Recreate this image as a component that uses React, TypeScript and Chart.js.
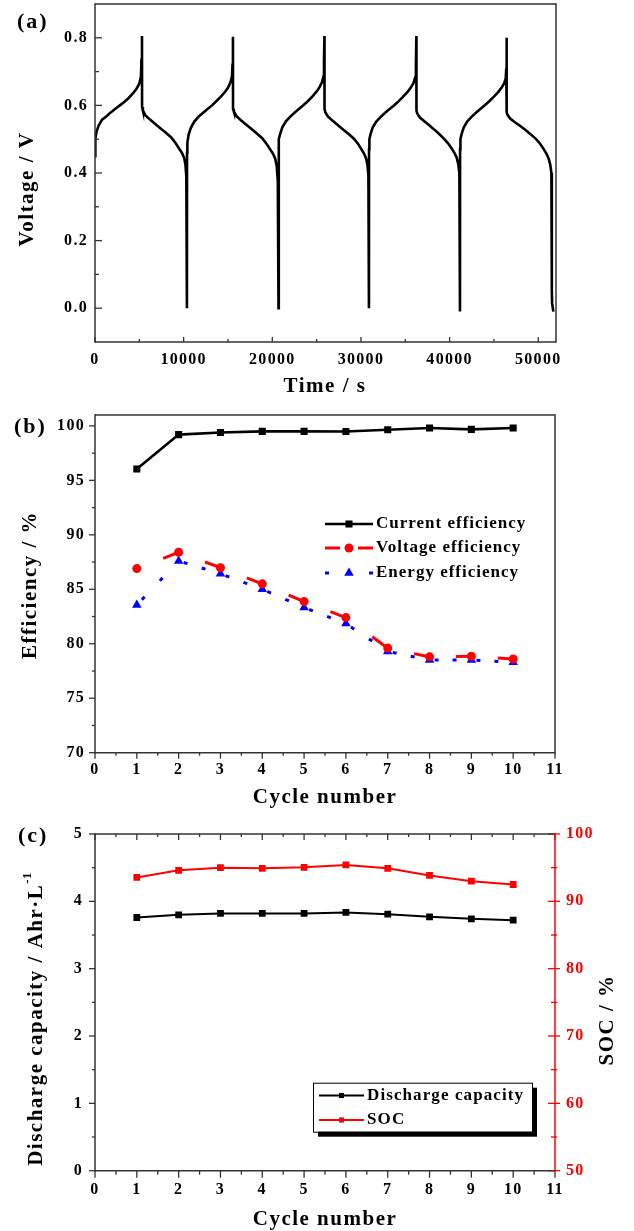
import React, { useEffect, useRef } from 'react';
import { Chart, registerables } from 'chart.js';

Chart.register(...registerables);

// ---------------- (a) voltage profile ----------------
const TIME_S: number[] = [
  0, 40, 150, 400, 800, 1300, 1800, 2300, 2800, 3300, 3800, 4300, 4700, 5000, 5180, 5240, 5300, 5310,
  5400, 5700, 6200, 6800, 7400, 8000, 8600, 9100, 9500, 9800, 10050, 10200, 10300, 10370,
  10380, 10420, 10550, 10800, 11200, 11700, 12200, 12700, 13200, 13700, 14200, 14700, 15000, 15280, 15450, 15510, 15560, 15570,
  15660, 15960, 16460, 17060, 17660, 18260, 18860, 19360, 19760, 20080, 20330, 20500, 20620, 20700,
  20710, 20750, 20880, 21130, 21530, 22030, 22530, 23030, 23530, 24030, 24530, 25030, 25330, 25600, 25770, 25830, 25880, 25890,
  25980, 26280, 26780, 27380, 27980, 28580, 29180, 29680, 30060, 30360, 30590, 30740, 30840, 30900,
  30910, 30950, 31080, 31330, 31730, 32230, 32730, 33230, 33730, 34230, 34730, 35230, 35600, 35920, 36120, 36200, 36250, 36260,
  36350, 36650, 37150, 37700, 38250, 38800, 39350, 39850, 40250, 40550, 40800, 40980, 41100, 41170,
  41180, 41220, 41350, 41600, 42000, 42500, 43000, 43500, 44000, 44500, 45000, 45500, 45850, 46150, 46330, 46390, 46430, 46440,
  46530, 46830, 47330, 47930, 48530, 49130, 49730, 50230, 50630, 50930, 51180, 51350, 51480, 51530, 51560, 51700,
];
const VOLTAGE_V: number[] = [
  0.45, 0.50, 0.52, 0.54, 0.558, 0.568, 0.580, 0.590, 0.600, 0.610, 0.622, 0.636, 0.650, 0.665, 0.685, 0.735, 0.805, 0.595,
  0.585, 0.570, 0.558, 0.545, 0.532, 0.519, 0.505, 0.488, 0.472, 0.460, 0.445, 0.425, 0.390, 0.0,
  0.46, 0.49, 0.512, 0.533, 0.552, 0.567, 0.578, 0.589, 0.600, 0.613, 0.626, 0.641, 0.652, 0.668, 0.685, 0.72, 0.803, 0.59,
  0.582, 0.568, 0.556, 0.543, 0.530, 0.517, 0.503, 0.486, 0.470, 0.457, 0.442, 0.420, 0.375, 0.0,
  0.47, 0.50, 0.515, 0.535, 0.553, 0.567, 0.579, 0.590, 0.601, 0.613, 0.627, 0.642, 0.654, 0.668, 0.686, 0.73, 0.805, 0.59,
  0.58, 0.567, 0.555, 0.542, 0.529, 0.516, 0.502, 0.486, 0.470, 0.457, 0.442, 0.422, 0.392, 0.0,
  0.47, 0.50, 0.515, 0.535, 0.552, 0.566, 0.578, 0.589, 0.600, 0.612, 0.625, 0.639, 0.652, 0.666, 0.683, 0.72, 0.805, 0.585,
  0.576, 0.564, 0.553, 0.541, 0.529, 0.516, 0.502, 0.487, 0.472, 0.459, 0.445, 0.425, 0.40, -0.01,
  0.47, 0.50, 0.515, 0.535, 0.553, 0.567, 0.579, 0.590, 0.601, 0.613, 0.626, 0.640, 0.652, 0.665, 0.680, 0.71, 0.80, 0.58,
  0.572, 0.561, 0.551, 0.540, 0.528, 0.515, 0.501, 0.486, 0.470, 0.457, 0.442, 0.425, 0.40, 0.05, 0.015, -0.01,
];
const A_X_TICKS = [0, 10000, 20000, 30000, 40000, 50000];
const A_X_MINOR = [5000, 15000, 25000, 35000, 45000];
const A_Y_TICKS = [0, 0.2, 0.4, 0.6, 0.8];
const A_Y_MINOR = [0.1, 0.3, 0.5, 0.7];

// ---------------- (b) efficiencies ----------------
const CYCLES = [1, 2, 3, 4, 5, 6, 7, 8, 9, 10];
const CURRENT_EFF = [96.05, 99.2, 99.4, 99.5, 99.5, 99.48, 99.65, 99.8, 99.68, 99.8];
const VOLTAGE_EFF = [86.9, 88.4, 86.98, 85.5, 83.87, 82.4, 79.6, 78.8, 78.85, 78.6];
const ENERGY_EFF = [83.56, 87.6, 86.43, 85.0, 83.32, 81.85, 79.3, 78.5, 78.5, 78.3];
const B_LEGEND = ['Current efficiency', 'Voltage efficiency', 'Energy efficiency'];
const CYCLE_TICKS = [0, 1, 2, 3, 4, 5, 6, 7, 8, 9, 10, 11];
const CYCLE_MINOR = [0.5, 1.5, 2.5, 3.5, 4.5, 5.5, 6.5, 7.5, 8.5, 9.5, 10.5];
const B_Y_TICKS = [70, 75, 80, 85, 90, 95, 100];
const B_Y_MINOR = [72.5, 77.5, 82.5, 87.5, 92.5, 97.5];

// ---------------- (c) capacity & SOC ----------------
const DISCHARGE_CAP = [3.76, 3.8, 3.82, 3.82, 3.82, 3.835, 3.81, 3.77, 3.74, 3.72];
const SOC = [93.55, 94.6, 95.0, 94.9, 95.05, 95.4, 94.9, 93.85, 93.0, 92.5];
const C_LEGEND = ['Discharge capacity', 'SOC'];
const C_Y_TICKS = [0, 1, 2, 3, 4, 5];
const C_Y_MINOR = [0.5, 1.5, 2.5, 3.5, 4.5];
const C_Y2_TICKS = [50, 60, 70, 80, 90, 100];
const C_Y2_MINOR = [55, 65, 75, 85, 95];

const FONT = '"Liberation Serif", "Times New Roman", Times, serif';
const FRAME = '#333333';

const pts = (xs: number[], ys: number[]) => xs.map((x, i) => ({ x, y: ys[i] }));

function xAxis(min: number, max: number, ticks: number[], height: number, pad: number, fmt: (v: number) => string) {
  return {
    type: 'linear', position: 'bottom', min, max, bounds: 'data',
    afterBuildTicks: (s: any) => { s.ticks = ticks.map((v) => ({ value: v })); },
    afterFit: (s: any) => { s.height = height; s.paddingLeft = 0; s.paddingRight = 0; s.paddingTop = 0; s.paddingBottom = 0; },
    ticks: { autoSkip: false, maxRotation: 0, minRotation: 0, padding: pad, color: '#000',
      font: { family: FONT, size: 16, weight: 'bold' }, callback: (v: any) => fmt(Number(v)) },
    grid: { display: false, drawTicks: false },
    border: { display: false },
  };
}

function yAxis(position: string, min: number, max: number, ticks: number[], width: number, pad: number,
  fmt: (v: number) => string, color: string) {
  return {
    type: 'linear', position, min, max, bounds: 'data',
    afterBuildTicks: (s: any) => { s.ticks = ticks.map((v) => ({ value: v })); },
    afterFit: (s: any) => { s.width = width; s.paddingLeft = 0; s.paddingRight = 0; s.paddingTop = 0; s.paddingBottom = 0; },
    ticks: { autoSkip: false, padding: pad, color, font: { family: FONT, size: 16, weight: 'bold' },
      callback: (v: any) => fmt(Number(v)) },
    grid: { display: false, drawTicks: false },
    border: { display: false },
  };
}

function baseOptions(padding: any, scales: any) {
  return {
    responsive: false, animation: false, devicePixelRatio: 1, events: [],
    layout: { padding, autoPadding: false },
    plugins: { legend: { display: false }, tooltip: { enabled: false }, title: { display: false } },
    scales,
  };
}

type Side = 'left' | 'right' | 'top' | 'bottom';
interface TickSet { id: string; side: Side; major: number[]; minor: number[]; inMaj: number; outMaj: number; inMin: number; outMin: number; color: string; }
interface Txt { text: string; x: number; y: number; size: number; rot?: number; align?: 'left' | 'center'; ls?: number; sup?: string; color?: string; }

function setFont(ctx: any, size: number, ls: number) {
  ctx.font = `bold ${size}px ${FONT}`;
  ctx.letterSpacing = `${ls}px`;
}

function drawText(ctx: any, t: Txt) {
  ctx.save();
  const ls = t.ls ?? 1.5;
  setFont(ctx, t.size, ls);
  ctx.fillStyle = t.color ?? '#000';
  ctx.textBaseline = 'middle';
  ctx.textAlign = 'left';
  ctx.translate(t.x, t.y);
  if (t.rot) ctx.rotate(t.rot);
  if (t.align === 'left') {
    ctx.fillText(t.text, 0, 0);
  } else {
    const w = ctx.measureText(t.text).width;
    let supW = 0;
    if (t.sup) { setFont(ctx, t.size * 0.6, 0.5); supW = ctx.measureText(t.sup).width; setFont(ctx, t.size, ls); }
    const start = -(w + supW) / 2;
    ctx.fillText(t.text, start, 0);
    if (t.sup) { setFont(ctx, t.size * 0.6, 0.5); ctx.fillText(t.sup, start + w, -t.size * 0.42); }
  }
  ctx.restore();
}

function marker(ctx: any, style: string, x: number, y: number, r: number, color: string) {
  ctx.save();
  ctx.fillStyle = color;
  ctx.beginPath();
  if (style === 'rect') {
    const s = r * Math.SQRT1_2;
    ctx.rect(x - s, y - s, 2 * s, 2 * s);
  } else if (style === 'circle') {
    ctx.arc(x, y, r, 0, Math.PI * 2);
  } else {
    const a = (2 * Math.PI) / 3;
    ctx.moveTo(x, y - r);
    ctx.lineTo(x + r * Math.sin(a), y - r * Math.cos(a));
    ctx.lineTo(x + r * Math.sin(2 * a), y - r * Math.cos(2 * a));
    ctx.closePath();
  }
  ctx.fill();
  ctx.restore();
}

function decor(cfg: { frame: { side: Side; color: string }[]; ticks: TickSet[]; texts: Txt[]; legend?: (ctx: any) => void }) {
  return {
    id: 'decor',
    beforeDraw(chart: any) { chart.ctx.letterSpacing = '1.3px'; },
    afterDraw(chart: any) {
      const ctx = chart.ctx;
      const a = chart.chartArea;
      ctx.save();
      ctx.letterSpacing = '0px';
      ctx.lineCap = 'butt';
      for (const t of cfg.ticks) {
        const sc = chart.scales[t.id];
        ctx.strokeStyle = t.color;
        ctx.lineWidth = 1.3;
        const one = (v: number, inL: number, outL: number) => {
          const p = sc.getPixelForValue(v);
          ctx.beginPath();
          if (t.side === 'left') { ctx.moveTo(a.left - outL, p); ctx.lineTo(a.left + inL, p); }
          if (t.side === 'right') { ctx.moveTo(a.right - inL, p); ctx.lineTo(a.right + outL, p); }
          if (t.side === 'bottom') { ctx.moveTo(p, a.bottom + outL); ctx.lineTo(p, a.bottom - inL); }
          if (t.side === 'top') { ctx.moveTo(p, a.top - outL); ctx.lineTo(p, a.top + inL); }
          ctx.stroke();
        };
        t.major.forEach((v) => one(v, t.inMaj, t.outMaj));
        t.minor.forEach((v) => one(v, t.inMin, t.outMin));
      }
      ctx.lineWidth = 1.5;
      for (const f of cfg.frame) {
        ctx.strokeStyle = f.color;
        ctx.beginPath();
        if (f.side === 'left') { ctx.moveTo(a.left, a.top - 0.75); ctx.lineTo(a.left, a.bottom + 0.75); }
        if (f.side === 'right') { ctx.moveTo(a.right, a.top - 0.75); ctx.lineTo(a.right, a.bottom + 0.75); }
        if (f.side === 'top') { ctx.moveTo(a.left, a.top); ctx.lineTo(a.right, a.top); }
        if (f.side === 'bottom') { ctx.moveTo(a.left, a.bottom); ctx.lineTo(a.right, a.bottom); }
        ctx.stroke();
      }
      ctx.restore();
      if (cfg.legend) cfg.legend(ctx);
      cfg.texts.forEach((t) => drawText(ctx, t));
    },
  };
}

const ALL_SIDES: { side: Side; color: string }[] = [
  { side: 'left', color: FRAME }, { side: 'right', color: FRAME }, { side: 'top', color: FRAME }, { side: 'bottom', color: FRAME },
];

function configA(): any {
  return {
    type: 'line',
    data: { datasets: [{ data: pts(TIME_S, VOLTAGE_V), borderColor: '#000', borderWidth: 2.6, pointRadius: 0, tension: 0, fill: false }] },
    options: baseOptions({ left: 0, top: 4, right: 78, bottom: 0 }, {
      x: xAxis(0, 52000, A_X_TICKS, 58, 8, (v) => String(Math.round(v))),
      y: yAxis('left', -0.1, 0.9, A_Y_TICKS, 95, 7, (v) => v.toFixed(1), '#000'),
    }),
    plugins: [decor({
      frame: ALL_SIDES,
      ticks: [
        { id: 'x', side: 'bottom', major: A_X_TICKS, minor: A_X_MINOR, inMaj: 5, outMaj: 0, inMin: 3, outMin: 0, color: FRAME },
        { id: 'y', side: 'left', major: A_Y_TICKS, minor: A_Y_MINOR, inMaj: 7, outMaj: 0, inMin: 4, outMin: 0, color: FRAME },
      ],
      texts: [
        { text: '(a)', x: 17, y: 22, size: 22, align: 'left', ls: 2 },
        { text: 'Time / s', x: 325, y: 387, size: 21 },
        { text: 'Voltage / V', x: 28, y: 189, size: 21, rot: -Math.PI / 2 },
      ],
    })],
  };
}

const segLen = (c: any) => Math.hypot(c.p1.x - c.p0.x, c.p1.y - c.p0.y);

function configB(): any {
  return {
    type: 'line',
    data: {
      datasets: [
        { label: B_LEGEND[0], data: pts(CYCLES, CURRENT_EFF), borderColor: '#000', borderWidth: 2.6,
          pointStyle: 'rect', pointRadius: 5, pointBackgroundColor: '#000', pointBorderWidth: 0 },
        { label: B_LEGEND[1], data: pts(CYCLES, VOLTAGE_EFF), borderColor: '#f00', borderWidth: 3,
          borderDash: [15, 100], borderDashOffset: 87,
          segment: { borderDashOffset: (c: any) => 115 - segLen(c) * 0.63 + (c.p0DataIndex % 2) * 0.001 },
          pointStyle: 'circle', pointRadius: 4.5, pointBackgroundColor: '#f00', pointBorderWidth: 0 },
        { label: B_LEGEND[2], data: pts(CYCLES, ENERGY_EFF), borderColor: '#00f', borderWidth: 3,
          borderDash: [4, 13], borderDashOffset: 12,
          segment: {
            borderDash: (c: any) => [4, Math.max(segLen(c) * 0.43 - 4, 2)],
            borderDashOffset: (c: any) => segLen(c) * 0.31 + (c.p0DataIndex % 2) * 0.001,
          },
          pointStyle: 'triangle', pointRadius: 5.5, pointBackgroundColor: '#00f', pointBorderWidth: 0 },
      ],
    },
    options: baseOptions({ left: 0, top: 15, right: 79, bottom: 0 }, {
      x: xAxis(0, 11, CYCLE_TICKS, 57.3, 7.7, (v) => String(Math.round(v))),
      y: yAxis('left', 70, 101, B_Y_TICKS, 95, 10, (v) => String(Math.round(v)), '#000'),
    }),
    plugins: [decor({
      frame: ALL_SIDES,
      ticks: [
        { id: 'x', side: 'bottom', major: CYCLE_TICKS, minor: CYCLE_MINOR, inMaj: 0, outMaj: 6, inMin: 0, outMin: 3, color: FRAME },
        { id: 'y', side: 'left', major: B_Y_TICKS, minor: B_Y_MINOR, inMaj: 0, outMaj: 6, inMin: 0, outMin: 3, color: FRAME },
      ],
      texts: [
        { text: '(b)', x: 14, y: 27, size: 22, align: 'left', ls: 2 },
        { text: 'Cycle number', x: 325, y: 398, size: 21 },
        { text: 'Efficiency / %', x: 31, y: 185, size: 21, rot: -Math.PI / 2 },
      ],
      legend: (ctx: any) => {
        const rows = [
          { label: B_LEGEND[0], color: '#000', dash: [] as number[], style: 'rect', r: 5, y: 124, w: 2.6 },
          { label: B_LEGEND[1], color: '#f00', dash: [15, 18], style: 'circle', r: 4.5, y: 148, w: 3 },
          { label: B_LEGEND[2], color: '#00f', dash: [4, 18], style: 'triangle', r: 5.5, y: 173, w: 3 },
        ];
        for (const r of rows) {
          ctx.save();
          ctx.strokeStyle = r.color;
          ctx.lineWidth = r.w;
          ctx.setLineDash(r.dash);
          ctx.beginPath();
          ctx.moveTo(325, r.y);
          ctx.lineTo(373, r.y);
          ctx.stroke();
          ctx.restore();
          marker(ctx, r.style, 349, r.y, r.r, r.color);
          drawText(ctx, { text: r.label, x: 376, y: r.y, size: 17, align: 'left', ls: 1 });
        }
      },
    })],
  };
}

function configC(): any {
  return {
    type: 'line',
    data: {
      datasets: [
        { label: C_LEGEND[0], data: pts(CYCLES, DISCHARGE_CAP), yAxisID: 'y', borderColor: '#000', borderWidth: 2,
          pointStyle: 'rect', pointRadius: 4.8, pointBackgroundColor: '#000', pointBorderWidth: 0 },
        { label: C_LEGEND[1], data: pts(CYCLES, SOC), yAxisID: 'y2', borderColor: '#f00', borderWidth: 2,
          pointStyle: 'rect', pointRadius: 4.8, pointBackgroundColor: '#f00', pointBorderWidth: 0 },
      ],
    },
    options: baseOptions({ left: 0, top: 24, right: 0, bottom: 0 }, {
      x: xAxis(0, 11, CYCLE_TICKS, 60.3, 9.7, (v) => String(Math.round(v))),
      y: yAxis('left', 0, 5, C_Y_TICKS, 95, 12, (v) => String(Math.round(v)), '#000'),
      y2: yAxis('right', 50, 100, C_Y2_TICKS, 79, 11, (v) => String(Math.round(v)), '#f00'),
    }),
    plugins: [decor({
      frame: [{ side: 'left', color: FRAME }, { side: 'top', color: FRAME }, { side: 'bottom', color: FRAME }, { side: 'right', color: '#f00' }],
      ticks: [
        { id: 'x', side: 'bottom', major: CYCLE_TICKS, minor: CYCLE_MINOR, inMaj: 0, outMaj: 7, inMin: 0, outMin: 4, color: FRAME },
        { id: 'x', side: 'top', major: CYCLE_TICKS, minor: CYCLE_MINOR, inMaj: 6, outMaj: 0, inMin: 3, outMin: 0, color: FRAME },
        { id: 'y', side: 'left', major: C_Y_TICKS, minor: C_Y_MINOR, inMaj: 0, outMaj: 6, inMin: 0, outMin: 3, color: FRAME },
        { id: 'y2', side: 'right', major: C_Y2_TICKS, minor: C_Y2_MINOR, inMaj: 7, outMaj: 5, inMin: 4, outMin: 2, color: '#f00' },
      ],
      texts: [
        { text: '(c)', x: 18, y: 26, size: 22, align: 'left', ls: 2 },
        { text: 'Cycle number', x: 325, y: 410, size: 21 },
        { text: 'Discharge capacity / Ahr\u00B7L', sup: '-1', x: 37, y: 209, size: 21, rot: -Math.PI / 2 },
        { text: 'SOC / %', x: 608, y: 210, size: 21, rot: -Math.PI / 2 },
      ],
      legend: (ctx: any) => {
        const bx = 313, by = 272.7, bw = 219, bh = 49;
        ctx.save();
        ctx.fillStyle = '#000';
        ctx.fillRect(bx + 5, by + 5, bw, bh);
        ctx.fillStyle = '#fff';
        ctx.fillRect(bx, by, bw, bh);
        ctx.strokeStyle = '#000';
        ctx.lineWidth = 1;
        ctx.strokeRect(bx + 0.5, by + 0.5, bw, bh);
        ctx.restore();
        const rows = [
          { label: C_LEGEND[0], color: '#000', y: 285.5 },
          { label: C_LEGEND[1], color: '#f00', y: 310 },
        ];
        for (const r of rows) {
          ctx.save();
          ctx.strokeStyle = r.color;
          ctx.lineWidth = 2;
          ctx.beginPath();
          ctx.moveTo(319, r.y);
          ctx.lineTo(364, r.y);
          ctx.stroke();
          ctx.restore();
          marker(ctx, 'rect', 341.5, r.y, 3.6, r.color);
          drawText(ctx, { text: r.label, x: 367, y: r.y, size: 17, align: 'left', ls: 1.1 });
        }
      },
    })],
  };
}

export default function App() {
  const aRef = useRef<HTMLCanvasElement>(null);
  const bRef = useRef<HTMLCanvasElement>(null);
  const cRef = useRef<HTMLCanvasElement>(null);

  useEffect(() => {
    const charts: Chart[] = [];
    if (aRef.current) charts.push(new Chart(aRef.current, configA()));
    if (bRef.current) charts.push(new Chart(bRef.current, configB()));
    if (cRef.current) charts.push(new Chart(cRef.current, configC()));
    return () => charts.forEach((c) => c.destroy());
  }, []);

  const cv = (top: number, height: number): React.CSSProperties => ({
    position: 'absolute', left: 0, top, width: 634, height, display: 'block',
  });

  return (
    <div style={{ position: 'absolute', left: 0, top: 0, width: 634, height: 1231, background: '#fff', overflow: 'hidden' }}>
      <canvas ref={aRef} width={634} height={400} style={cv(0, 400)} />
      <canvas ref={bRef} width={634} height={410} style={cv(400, 410)} />
      <canvas ref={cRef} width={634} height={421} style={cv(810, 421)} />
    </div>
  );
}
